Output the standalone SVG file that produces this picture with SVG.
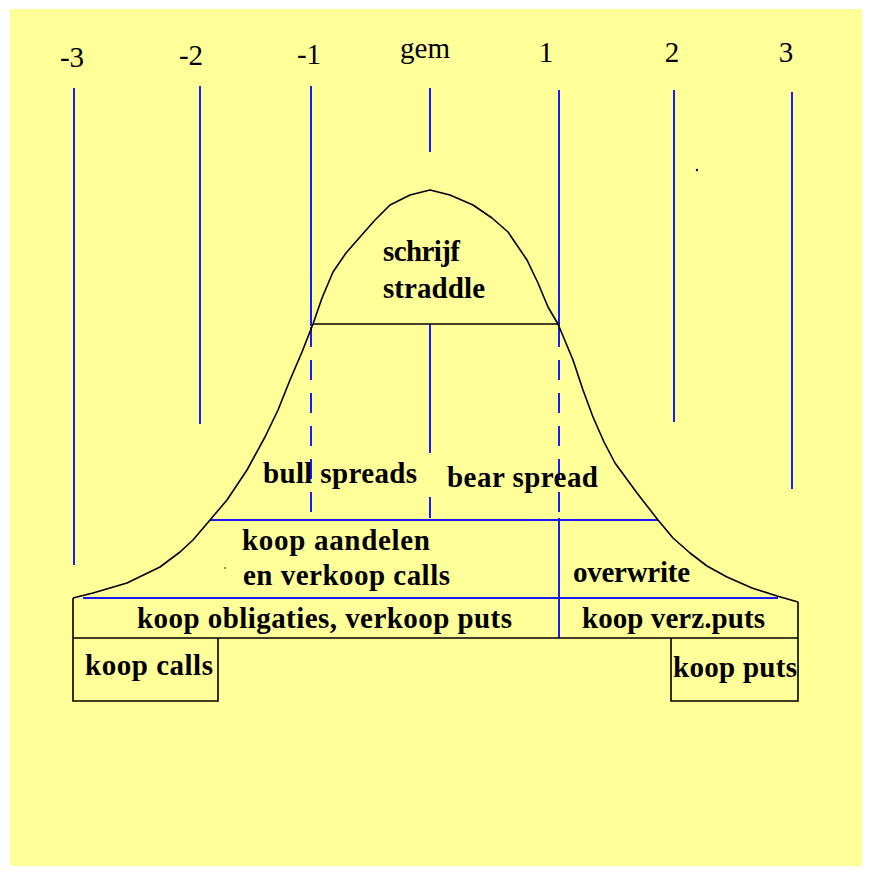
<svg xmlns="http://www.w3.org/2000/svg" width="872" height="875" viewBox="0 0 872 875">
<style>
.bg{fill:#ffff99}
.blue{stroke:#1a1aff;stroke-width:2;fill:none}
.dash{stroke-dasharray:20 13}
.blk{stroke:#000;stroke-width:1.6;fill:none}
.axis{font-family:"Liberation Serif",serif;font-size:29px;fill:#000;text-anchor:middle}
.lbl{font-family:"Liberation Serif",serif;font-size:29px;font-weight:bold;fill:#000}
</style>
<rect x="0" y="0" width="872" height="875" fill="#fff"/>
<rect class="bg" x="10" y="9" width="852" height="857"/>

<g id="axis-labels">
<text class="axis" x="72" y="67">-3</text>
<text class="axis" x="191" y="65">-2</text>
<text class="axis" x="309" y="64">-1</text>
<text class="axis" x="425" y="58">gem</text>
<text class="axis" x="546" y="62">1</text>
<text class="axis" x="672" y="62">2</text>
<text class="axis" x="786" y="62">3</text>
</g>

<g id="connectors">
<line class="blue" x1="74" y1="88" x2="74" y2="565"/>
<line class="blue" x1="200" y1="86" x2="200" y2="424"/>
<line class="blue" x1="311" y1="86" x2="311" y2="326"/>
<line class="blue dash" x1="311" y1="327" x2="311" y2="518"/>
<line class="blue" x1="430" y1="88" x2="430" y2="152"/>
<line class="blue" x1="430" y1="324" x2="430" y2="453"/>
<line class="blue" x1="430" y1="497" x2="430" y2="518"/>
<line class="blue" x1="559" y1="90" x2="559" y2="326"/>
<line class="blue dash" x1="559" y1="327" x2="559" y2="518"/>
<line class="blue" x1="559" y1="518" x2="559" y2="638"/>
<line class="blue" x1="674" y1="90" x2="674" y2="422"/>
<line class="blue" x1="792" y1="92" x2="792" y2="489"/>
<line class="blue" x1="210" y1="520" x2="658" y2="520"/>
<line class="blue" x1="83" y1="598" x2="778" y2="598"/>
<line class="blk" x1="313" y1="324" x2="558" y2="324"/>
</g>

<g id="bell-curve">
<polyline class="blk" stroke-linejoin="round" points="73,598 93,593 127,583 160,567 180,552 193,540 210,520 227,500 247,470 265,437 278,410 290,380 302,352 313,324 322,298 333,272 346,253 360,237 375,220 390,205 410,195 430,190 450,195 473,205 492,218 508,232 527,260 538,283 548,307 558,324 573,360 583,390 593,417 604,442 615,463 637,493 658,520 673,538 690,553 707,566 727,577 752,588 777,596 798,602"/>
</g>

<g id="box-frame">
<polyline class="blk" points="73,598 73,701 218,701 218,638"/>
<line class="blk" x1="73" y1="638" x2="798" y2="638"/>
<polyline class="blk" points="798,602 798,701 671,701 671,638"/>
</g>

<g id="straddle"><text class="lbl" x="383" y="261" textLength="77">schrijf</text><text class="lbl" x="383" y="298" textLength="102">straddle</text></g>
<g id="bull-spreads"><text class="lbl" x="263" y="483" textLength="154">bull spreads</text></g>
<g id="bear-spread"><text class="lbl" x="447" y="487" textLength="151">bear spread</text></g>
<g id="koop-aandelen"><text class="lbl" x="242" y="550" textLength="188">koop aandelen</text><text class="lbl" x="243" y="585" textLength="207">en verkoop calls</text></g>
<g id="overwrite"><text class="lbl" x="573" y="582" textLength="117">overwrite</text></g>
<g id="obligaties"><text class="lbl" x="137" y="628" textLength="375">koop obligaties, verkoop puts</text></g>
<g id="verz-puts"><text class="lbl" x="582" y="628" textLength="183">koop verz.puts</text></g>
<g id="koop-calls"><text class="lbl" x="85" y="675" textLength="128">koop calls</text></g>
<g id="koop-puts"><text class="lbl" x="673" y="677" textLength="124">koop puts</text></g>

<circle cx="697" cy="170" r="1.2" fill="#000"/>
<circle cx="225" cy="568" r="0.8" fill="#000"/>
</svg>
